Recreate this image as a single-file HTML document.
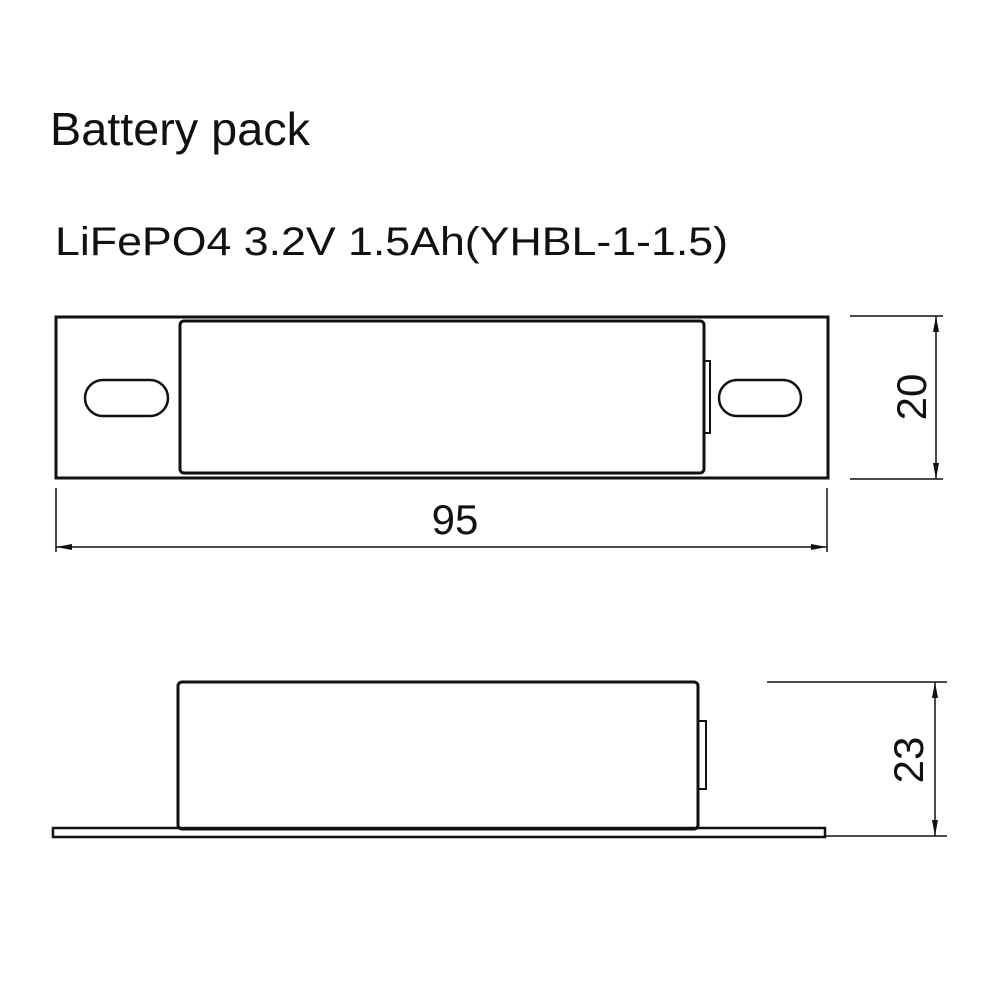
<!DOCTYPE html>
<html><head><meta charset="utf-8"><style>
html,body{margin:0;padding:0;background:#fff;}
svg{display:block;}
</style></head><body>
<svg width="1000" height="1000" viewBox="0 0 1000 1000" xmlns="http://www.w3.org/2000/svg" font-family="Liberation Sans, sans-serif">
<rect width="1000" height="1000" fill="#fff"/>
<text x="50" y="145" font-size="46" fill="#111" textLength="260" lengthAdjust="spacingAndGlyphs">Battery pack</text>
<text x="55" y="255" font-size="40" fill="#111" textLength="673" lengthAdjust="spacingAndGlyphs">LiFePO4 3.2V 1.5Ah(YHBL-1-1.5)</text>

<g fill="none" stroke="#111">
<rect x="56" y="317" width="772" height="161" stroke-width="3"/>
<rect x="180" y="321" width="524" height="152" rx="4" stroke-width="3"/>
<rect x="704" y="361" width="6" height="72" stroke-width="2"/>
<rect x="85" y="380" width="83" height="36" rx="18" stroke-width="2.5"/>
<rect x="719" y="380" width="82" height="36" rx="18" stroke-width="2.5"/>
<line x1="56" y1="488" x2="56" y2="552" stroke-width="1.5"/>
<line x1="827" y1="488" x2="827" y2="552" stroke-width="1.5"/>
<line x1="56" y1="547" x2="827" y2="547" stroke-width="1.5"/>
<line x1="850" y1="316" x2="943" y2="316" stroke-width="1.5"/>
<line x1="850" y1="479" x2="943" y2="479" stroke-width="1.5"/>
<line x1="936" y1="316" x2="936" y2="479" stroke-width="1.5"/>
<rect x="178" y="682" width="520" height="147" rx="4" stroke-width="3"/>
<rect x="698" y="721" width="8" height="68" stroke-width="2"/>
<rect x="53" y="828" width="772" height="9" stroke-width="2.5"/>
<line x1="767" y1="682" x2="947" y2="682" stroke-width="1.5"/>
<line x1="825" y1="836" x2="947" y2="836" stroke-width="1.5"/>
<line x1="935" y1="682" x2="935" y2="836" stroke-width="1.5"/>
</g>
<g fill="#111">
<polygon points="56,547 72,544 72,550"/>
<polygon points="827,547 811,544 811,550"/>
<polygon points="936,316 933,332 939,332"/>
<polygon points="936,479 933,463 939,463"/>
<polygon points="935,682 932,698 938,698"/>
<polygon points="935,836 932,820 938,820"/>
</g>
<text x="455" y="534" font-size="42" fill="#111" text-anchor="middle">95</text>
<text transform="translate(926,397) rotate(-90)" font-size="42" fill="#111" text-anchor="middle">20</text>
<text transform="translate(923,760) rotate(-90)" font-size="42" fill="#111" text-anchor="middle">23</text>
</svg>
</body></html>
